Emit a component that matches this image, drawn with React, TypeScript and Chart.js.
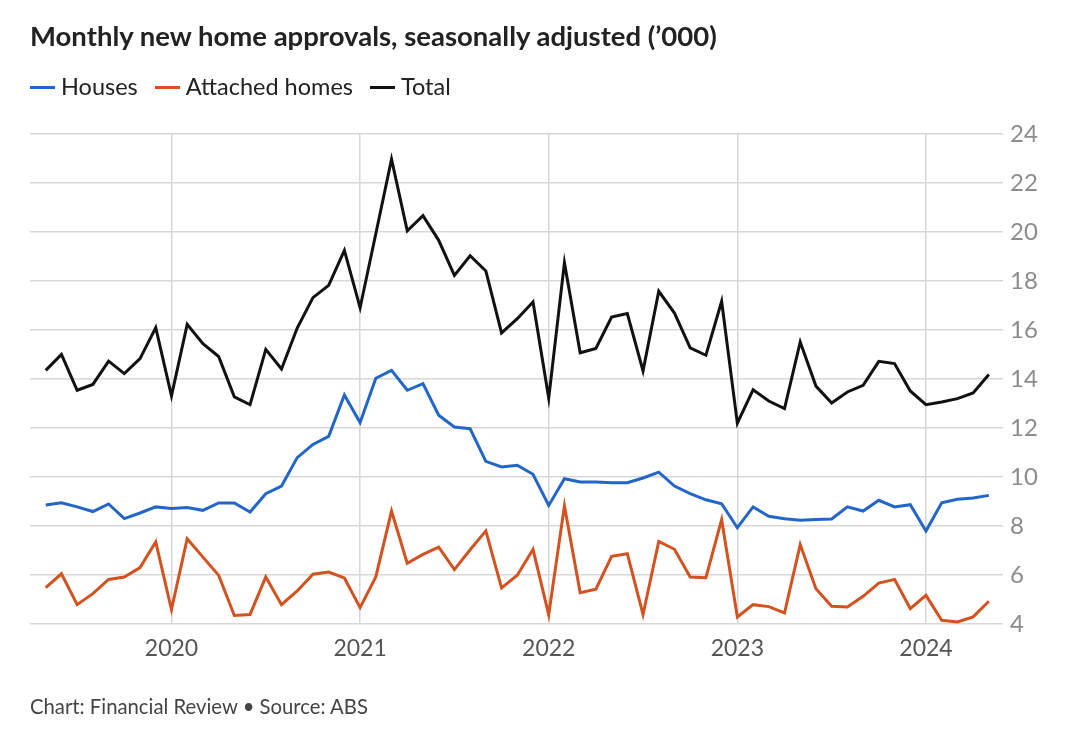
import React, { useEffect, useRef } from "react";
import { Chart, registerables } from "chart.js";

Chart.register(...registerables);

const months: string[] = [
  "2019-05","2019-06","2019-07","2019-08","2019-09","2019-10","2019-11","2019-12",
  "2020-01","2020-02","2020-03","2020-04","2020-05","2020-06","2020-07","2020-08","2020-09","2020-10","2020-11","2020-12",
  "2021-01","2021-02","2021-03","2021-04","2021-05","2021-06","2021-07","2021-08","2021-09","2021-10","2021-11","2021-12",
  "2022-01","2022-02","2022-03","2022-04","2022-05","2022-06","2022-07","2022-08","2022-09","2022-10","2022-11","2022-12",
  "2023-01","2023-02","2023-03","2023-04","2023-05","2023-06","2023-07","2023-08","2023-09","2023-10","2023-11","2023-12",
  "2024-01","2024-02","2024-03","2024-04","2024-05",
];

const houses: number[] = [
  8.86, 8.95, 8.78, 8.59, 8.9, 8.3, 8.53, 8.78,
  8.71, 8.75, 8.64, 8.94, 8.94, 8.57, 9.32, 9.63, 10.79, 11.33, 11.66, 13.35,
  12.22, 14.03, 14.35, 13.54, 13.81, 12.52, 12.04, 11.97, 10.64, 10.41, 10.48, 10.11,
  8.84, 9.93, 9.8, 9.8, 9.77, 9.77, 9.96, 10.2, 9.63, 9.32, 9.07, 8.91,
  7.93, 8.78, 8.4, 8.3, 8.23, 8.27, 8.29, 8.78, 8.61, 9.05, 8.78, 8.87,
  7.8, 8.95, 9.09, 9.14, 9.25,
];

const attached: number[] = [
  5.48, 6.05, 4.79, 5.24, 5.82, 5.92, 6.3, 7.35,
  4.59, 7.48, 6.73, 5.99, 4.35, 4.39, 5.92, 4.79, 5.35, 6.03, 6.12, 5.88,
  4.67, 5.92, 8.61, 6.48, 6.84, 7.14, 6.22, 7.03, 7.8, 5.47, 5.99, 7.05,
  4.38, 8.82, 5.28, 5.42, 6.76, 6.87, 4.39, 7.37, 7.05, 5.92, 5.89, 8.26,
  4.29, 4.79, 4.71, 4.45, 7.24, 5.44, 4.72, 4.69, 5.13, 5.67, 5.82, 4.63,
  5.17, 4.15, 4.08, 4.29, 4.93,
];

const total: number[] = [
  14.35, 15.0, 13.54, 13.78, 14.73, 14.22, 14.83, 16.1,
  13.31, 16.23, 15.44, 14.92, 13.27, 12.95, 15.21, 14.41, 16.08, 17.32, 17.82, 19.25,
  16.91, 19.93, 22.97, 20.05, 20.67, 19.66, 18.23, 19.03, 18.41, 15.88, 16.46, 17.14,
  13.22, 18.75, 15.07, 15.25, 16.53, 16.67, 14.33, 17.58, 16.69, 15.27, 14.97, 17.17,
  12.2, 13.56, 13.1, 12.79, 15.51, 13.71, 13.02, 13.47, 13.74, 14.72, 14.63, 13.51,
  12.95, 13.06, 13.2, 13.43, 14.18,
];

const yearTickLabels: string[] = ["2020", "2021", "2022", "2023", "2024"];
const yTicks: number[] = [4, 6, 8, 10, 12, 14, 16, 18, 20, 22, 24];

const seriesNames: string[] = ["Houses", "Attached homes", "Total"];
const seriesColors: string[] = ["#2166c8", "#d4521f", "#111111"];

const FONT = "Lato, 'Noto Sans', sans-serif";

export default function App() {
  const canvasRef = useRef<HTMLCanvasElement | null>(null);

  useEffect(() => {
    const canvas = canvasRef.current;
    if (!canvas) return;
    const yearIdx = yearTickLabels.map((y) => months.indexOf(`${y}-01`));
    const toPts = (arr: number[]) => arr.map((v, i) => ({ x: i, y: v }));
    const seriesData = [houses, attached, total];

    const chart = new Chart(canvas, {
      type: "line",
      data: {
        datasets: seriesNames.map((name, k) => ({
          label: name,
          data: toPts(seriesData[k]),
          borderColor: seriesColors[k],
          backgroundColor: seriesColors[k],
          borderWidth: 3,
          pointRadius: 0,
          tension: 0,
          fill: false,
        })),
      },
      options: {
        animation: false,
        responsive: false,
        devicePixelRatio: 1,
        layout: { padding: { left: 30, top: 134, right: 0, bottom: 0 } },
        plugins: {
          legend: { display: false },
          title: { display: false },
          tooltip: { enabled: false },
        },
        scales: {
          x: {
            type: "linear",
            min: -1,
            max: 60.9,
            border: { display: false },
            grid: { color: "#d8d8d8", lineWidth: 1.5, drawTicks: false },
            afterBuildTicks: (scale: any) => {
              scale.ticks = yearIdx.map((v) => ({ value: v }));
            },
            afterFit: (scale: any) => {
              scale.height = 112;
            },
            ticks: {
              autoSkip: false,
              maxRotation: 0,
              padding: 11,
              color: "#555555",
              font: { family: FONT, size: 23 },
              callback: (value: any) => {
                const i = yearIdx.indexOf(Number(value));
                return i >= 0 ? yearTickLabels[i] : "";
              },
            },
          },
          y: {
            type: "linear",
            position: "right",
            min: 4,
            max: 24,
            border: { display: false },
            grid: { color: "#d8d8d8", lineWidth: 1.5, drawTicks: false },
            afterBuildTicks: (scale: any) => {
              scale.ticks = yTicks.map((v) => ({ value: v }));
            },
            afterFit: (scale: any) => {
              scale.width = 77;
            },
            ticks: {
              padding: 7,
              color: "#8c8c8c",
              font: { family: FONT, size: 24 },
            },
          },
        },
      },
    } as any);

    return () => chart.destroy();
  }, []);

  const legendItem = (name: string, color: string, key: number) => (
    <div key={key} style={{ display: "flex", alignItems: "center", marginRight: 17 }}>
      <div style={{ width: 25, height: 3, background: color, marginRight: 6, position: "relative", top: 1 }} />
      <span>{name}</span>
    </div>
  );

  return (
    <div style={{ position: "absolute", left: 0, top: 0, width: 1080, height: 736, background: "#fff", fontFamily: FONT }}>
      <canvas ref={canvasRef} width={1080} height={736} style={{ position: "absolute", left: 0, top: 0, width: 1080, height: 736 }} />
      <div style={{ position: "absolute", left: 30, top: 19, fontSize: 27.5, fontWeight: 700, color: "#222", lineHeight: "33px", whiteSpace: "nowrap" }}>
        Monthly new home approvals, seasonally adjusted (’000)
      </div>
      <div style={{ position: "absolute", left: 30, top: 72, fontSize: 23.5, color: "#222", lineHeight: "28px", display: "flex", whiteSpace: "nowrap" }}>
        {seriesNames.map((n, k) => legendItem(n, seriesColors[k], k))}
      </div>
      <div style={{ position: "absolute", left: 30, top: 694, fontSize: 20.3, color: "#444", lineHeight: "24px", whiteSpace: "nowrap" }}>
        Chart: Financial Review • Source: ABS
      </div>
    </div>
  );
}
